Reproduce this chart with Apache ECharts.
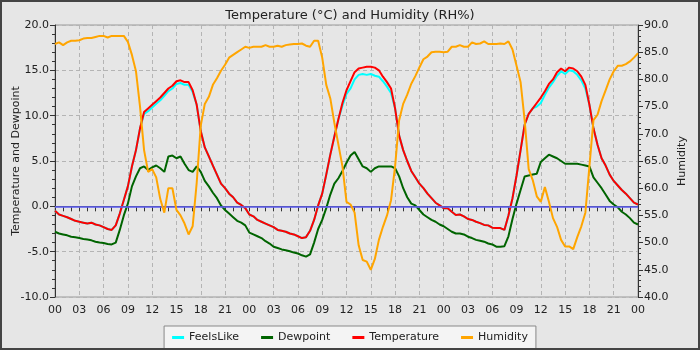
<!DOCTYPE html>
<html>
<head>
<meta charset="utf-8">
<title>Temperature and Humidity</title>
<script src="https://cdn.jsdelivr.net/npm/echarts@6/dist/echarts.min.js"></script>
<style>
  html, body { margin: 0; padding: 0; background: #e6e6e6; }
  #chart { width: 700px; height: 350px; }
</style>
</head>
<body>
<div id="chart"></div>
<script>
// Readings every 30 minutes over three days (hour 0 .. 72)
const stepHours = 0.5;

const feelsLike = [
  -0.5, -0.9, -1.05, -1.2, -1.4, -1.6, -1.7, -1.8, -1.9, -1.8, -2.0, -2.1,
  -2.3, -2.5, -2.6, -2.1, -0.8, 0.7, 2.2, 4.4, 6.2, 8.6, 10.2, 10.5,
  10.9, 11.3, 11.7, 12.2, 12.7, 13.0, 13.5, 13.6, 13.4, 13.4, 12.6, 11.2,
  8.3, 6.5, 5.5, 4.5, 3.5, 2.5, 2.0, 1.4, 1.0, 0.4, 0.15, -0.2,
  -0.9, -1.1, -1.5, -1.7, -1.9, -2.1, -2.3, -2.6, -2.7, -2.8, -3.0, -3.1,
  -3.3, -3.5, -3.4, -2.7, -1.5, 0.1, 1.4, 3.5, 5.7, 7.7, 9.6, 11.1,
  12.4, 13.0, 14.0, 14.5, 14.6, 14.5, 14.6, 14.4, 14.3, 13.8, 13.2, 12.5,
  10.8, 7.8, 6.2, 5.0, 3.9, 3.2, 2.5, 2.0, 1.4, 0.9, 0.4, 0.1,
  -0.2, -0.2, -0.6, -0.95, -0.9, -1.1, -1.4, -1.5, -1.7, -1.85, -2.05, -2.1,
  -2.35, -2.4, -2.4, -2.6, -1.0, 0.9, 3.4, 6.2, 9.0, 10.2, 10.8, 11.0,
  11.4, 12.3, 13.1, 13.7, 14.4, 14.9, 14.6, 15.0, 14.9, 14.5, 13.9, 13.0,
  11.2, 8.6, 6.8, 5.3, 4.5, 3.5, 2.8, 2.3, 1.8, 1.4, 0.9, 0.4,
  0.2
];

const dewpoint = [
  -2.8, -3.0, -3.1, -3.2, -3.35, -3.4, -3.5, -3.6, -3.65, -3.75, -3.9, -4.0,
  -4.05, -4.15, -4.2, -4.0, -2.6, -1.0, 0.3, 2.2, 3.3, 4.2, 4.4, 4.0,
  4.3, 4.5, 4.2, 3.8, 5.5, 5.6, 5.3, 5.5, 4.7, 4.0, 3.8, 4.4,
  3.8, 2.8, 2.2, 1.5, 0.9, 0.1, -0.4, -0.8, -1.2, -1.6, -1.8, -2.1,
  -2.9, -3.1, -3.3, -3.5, -3.85, -4.1, -4.45, -4.6, -4.75, -4.85, -4.95, -5.1,
  -5.2, -5.4, -5.55, -5.3, -4.0, -2.5, -1.5, -0.2, 1.3, 2.5, 3.1, 3.9,
  4.8, 5.6, 6.0, 5.2, 4.4, 4.2, 3.8, 4.2, 4.4, 4.4, 4.4, 4.4,
  4.2, 3.3, 2.0, 1.0, 0.3, 0.1, -0.4, -0.9, -1.2, -1.5, -1.7, -2.0,
  -2.2, -2.5, -2.8, -3.0, -3.0, -3.1, -3.35, -3.5, -3.7, -3.8, -3.9, -4.1,
  -4.2, -4.45, -4.45, -4.4, -3.3, -1.4, 0.3, 1.8, 3.3, 3.4, 3.5, 3.6,
  4.9, 5.3, 5.7, 5.5, 5.3, 5.0, 4.7, 4.7, 4.7, 4.7, 4.6, 4.5,
  4.4, 3.2, 2.6, 2.0, 1.3, 0.6, 0.2, -0.1, -0.6, -0.9, -1.3, -1.8,
  -2.0
];

const temperature = [
  -0.5, -0.9, -1.05, -1.2, -1.4, -1.6, -1.7, -1.8, -1.9, -1.8, -2.0, -2.1,
  -2.3, -2.5, -2.6, -2.1, -0.8, 0.7, 2.2, 4.4, 6.2, 8.6, 10.4, 10.8,
  11.2, 11.6, 12.0, 12.5, 13.0, 13.3, 13.8, 13.9, 13.7, 13.7, 12.8, 11.2,
  8.3, 6.5, 5.5, 4.5, 3.5, 2.5, 2.0, 1.4, 1.0, 0.4, 0.15, -0.2,
  -0.9, -1.1, -1.5, -1.7, -1.9, -2.1, -2.3, -2.6, -2.7, -2.8, -3.0, -3.1,
  -3.3, -3.5, -3.4, -2.7, -1.5, 0.1, 1.4, 3.5, 5.7, 7.7, 9.6, 11.4,
  12.8, 13.8, 14.8, 15.2, 15.3, 15.4, 15.4, 15.3, 15.0, 14.3, 13.7, 13.0,
  10.8, 7.8, 6.2, 5.0, 3.9, 3.2, 2.5, 2.0, 1.4, 0.9, 0.4, 0.1,
  -0.2, -0.2, -0.6, -0.95, -0.9, -1.1, -1.4, -1.5, -1.7, -1.85, -2.05, -2.1,
  -2.35, -2.4, -2.4, -2.6, -1.0, 0.9, 3.4, 6.2, 9.0, 10.2, 10.8, 11.4,
  12.0, 12.7, 13.5, 14.0, 14.8, 15.2, 14.9, 15.3, 15.2, 14.9, 14.3, 13.4,
  11.2, 8.6, 6.8, 5.3, 4.5, 3.5, 2.8, 2.3, 1.8, 1.4, 0.9, 0.4,
  0.2
];

const humidity = [
  86.5, 86.8, 86.3, 86.8, 87.1, 87.1, 87.2, 87.5, 87.6, 87.6, 87.8, 88.0,
  88.0, 87.7, 88.0, 88.0, 88.0, 88.0, 86.9, 84.5, 81.5, 75.0, 67.0, 63.0,
  63.5, 62.0, 58.0, 55.5, 60.0, 60.0, 56.0, 55.0, 53.5, 51.5, 53.0, 61.0,
  71.5, 75.5, 76.8, 79.0, 80.2, 81.6, 82.7, 84.0, 84.5, 85.0, 85.5, 86.0,
  85.8, 86.0, 86.0, 86.0, 86.3, 86.0, 86.0, 86.2, 86.0, 86.3, 86.4, 86.5,
  86.5, 86.6, 86.2, 86.0, 87.1, 87.1, 84.0, 79.0, 76.5, 72.0, 68.0, 64.0,
  57.5, 57.0, 55.5, 49.5, 46.8, 46.5, 45.0, 47.0, 50.5, 52.9, 55.0, 57.8,
  64.0, 72.5, 75.5, 77.2, 79.2, 80.6, 82.2, 83.7, 84.2, 85.0, 85.1, 85.1,
  85.0, 85.1, 86.0, 86.0, 86.3, 86.0, 86.0, 86.8, 86.5, 86.6, 87.0, 86.5,
  86.5, 86.5, 86.6, 86.5, 87.0, 85.5, 82.5, 79.5, 72.5, 63.5, 61.5, 58.5,
  57.5, 60.2, 57.5, 54.5, 52.9, 50.5, 49.3, 49.3, 48.8, 51.0, 53.0, 55.5,
  64.0, 72.5, 73.5, 76.0, 78.0, 80.0, 81.5, 82.5, 82.5, 82.8, 83.3, 84.0,
  84.8
];

const seriesNames = ['FeelsLike', 'Dewpoint', 'Temperature', 'Humidity'];
const seriesColors = ['#00ffff', '#006400', '#ff0000', '#ffa500'];

const pair = arr => arr.map((v, i) => [i * stepHours, v]);
const hourLabel = v => String(Math.round(v) % 24).padStart(2, '0');

const font = 'DejaVu Sans';
const textColor = '#222';

const chart = echarts.init(document.getElementById('chart'), null, { renderer: 'canvas' });

function lineSeries(idx, data, yAxisIndex, extra) {
  return Object.assign({
    name: seriesNames[idx],
    type: 'line',
    yAxisIndex: yAxisIndex,
    data: pair(data),
    showSymbol: false,
    symbol: 'none',
    lineStyle: { color: seriesColors[idx], width: 2 },
    itemStyle: { color: seriesColors[idx] },
    z: 2 + idx
  }, extra || {});
}

chart.setOption({
  animation: false,
  backgroundColor: '#e6e6e6',
  title: {
    text: 'Temperature (°C) and Humidity (RH%)',
    left: 'center',
    top: 4,
    textStyle: { fontFamily: font, fontSize: 13, fontWeight: 'normal', color: textColor }
  },
  legend: {
    data: seriesNames,
    bottom: 1,
    left: 'center',
    icon: 'rect',
    itemWidth: 12,
    itemHeight: 3,
    itemGap: 22,
    padding: [6, 8, 6, 8],
    backgroundColor: '#f4f4f4',
    borderColor: '#888',
    borderWidth: 1,
    borderRadius: 0,
    textStyle: { fontFamily: font, fontSize: 11, color: textColor }
  },
  grid: {
    left: 55, right: 62, top: 25, bottom: 53,
    containLabel: false,
    outerBoundsMode: 'none',
    show: true,
    borderColor: '#9a9a9a',
    borderWidth: 1,
    backgroundColor: 'transparent'
  },
  xAxis: {
    type: 'value',
    min: 0, max: 72, interval: 3,
    axisLine: { show: true, lineStyle: { color: '#333', width: 1 } },
    axisTick: { show: true, length: 5, lineStyle: { color: '#333' } },
    minorTick: { show: true, splitNumber: 3, length: 5, lineStyle: { color: '#333' } },
    splitLine: { show: true, lineStyle: { color: '#b4b4b4', type: [4, 3], width: 1 } },
    axisLabel: { formatter: hourLabel, fontFamily: font, fontSize: 11, color: textColor, margin: 8 }
  },
  yAxis: [
    {
      type: 'value',
      min: -10, max: 20, interval: 5,
      name: 'Temperature and Dewpoint',
      nameLocation: 'middle',
      nameGap: 33,
      nameMoveOverlap: false,
      nameTextStyle: { fontFamily: font, fontSize: 11, color: textColor },
      axisLine: { show: true, lineStyle: { color: '#333' } },
      axisTick: { show: true, length: 5, lineStyle: { color: '#333' } },
      minorTick: { show: true, splitNumber: 5, length: 3, lineStyle: { color: '#333' } },
      splitLine: { show: true, lineStyle: { color: '#b4b4b4', type: [4, 3], width: 1 } },
      axisLabel: { formatter: v => v.toFixed(1), fontFamily: font, fontSize: 11, color: textColor, margin: 6 }
    },
    {
      type: 'value',
      min: 40, max: 90, interval: 5,
      name: 'Humidity',
      nameLocation: 'middle',
      nameGap: 39,
      nameMoveOverlap: false,
      nameTextStyle: { fontFamily: font, fontSize: 11, color: textColor },
      axisLine: { show: true, lineStyle: { color: '#333' } },
      axisTick: { show: true, length: 5, lineStyle: { color: '#333' } },
      minorTick: { show: true, splitNumber: 5, length: 3, lineStyle: { color: '#333' } },
      splitLine: { show: false },
      axisLabel: { formatter: v => v.toFixed(1), fontFamily: font, fontSize: 11, color: textColor, margin: 6 }
    }
  ],
  graphic: [{
    type: 'rect',
    silent: true,
    z: 100,
    shape: { x: 1, y: 1, width: 698, height: 348 },
    style: { fill: 'none', stroke: '#444', lineWidth: 2 }
  }],
  series: [
    lineSeries(0, feelsLike, 0, {
      markLine: {
        silent: true,
        symbol: 'none',
        label: { show: false },
        lineStyle: { color: '#6060f0', width: 2, type: 'solid', opacity: 0.8 },
        data: [{ yAxis: 0 }]
      }
    }),
    lineSeries(1, dewpoint, 0),
    lineSeries(2, temperature, 0),
    lineSeries(3, humidity, 1)
  ]
});
</script>
</body>
</html>
